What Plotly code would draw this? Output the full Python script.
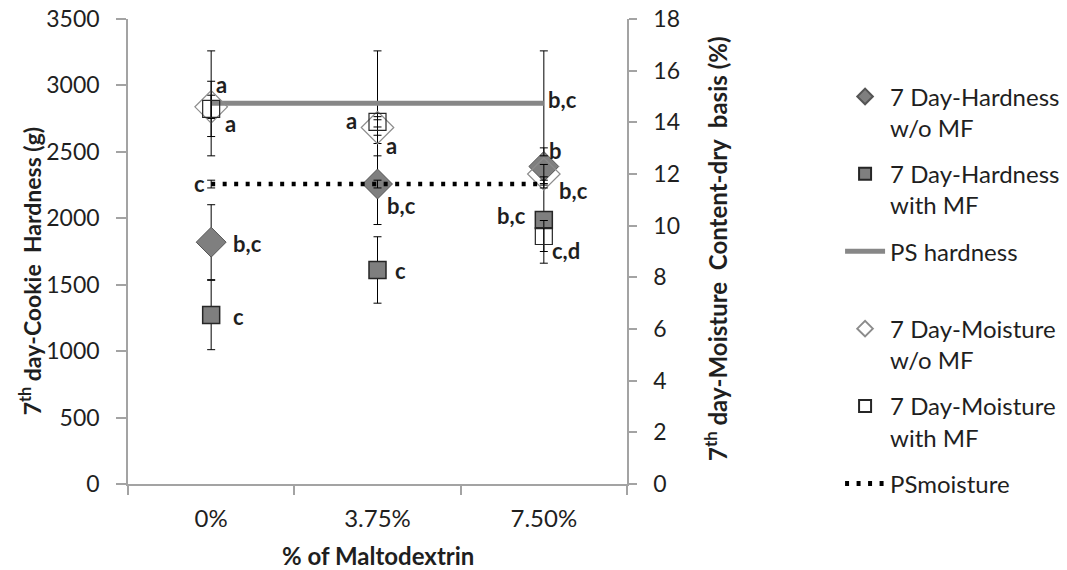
import plotly.graph_objects as go

# ---- data -------------------------------------------------------------
categories = ["0%", "3.75%", "7.50%"]

hard_wo_mf = [1820, 2258, 2390]        # 7 Day-Hardness w/o MF (g)
hard_wo_mf_err = [282, 305, 140]
hard_w_mf = [1272, 1611, 1987]         # 7 Day-Hardness with MF (g)
hard_w_mf_err = [261, 250, 325]
ps_hardness = [2865, 2865, 2865]       # PS hardness (g)
ps_hardness_err = [395, 395, 395]

moist_wo_mf = [14.6, 13.8, 12.0]       # 7 Day-Moisture w/o MF (%)
moist_wo_mf_err = [0.45, 0.3, 0.37]
moist_w_mf = [14.52, 14.02, 9.6]       # 7 Day-Moisture with MF (%)
moist_w_mf_err = [1.07, 0.2, 0.6]
ps_moisture = [11.61, 11.61, 11.61]    # PSmoisture (%)
ps_moisture_err = [0.15, 0.15, 0.15]

y_left_ticks = [0, 500, 1000, 1500, 2000, 2500, 3000, 3500]
y_right_ticks = [0, 2, 4, 6, 8, 10, 12, 14, 16, 18]

# significance letters: (category index, series, letter)
sig_letters = [
    (0, "moist_wo", "a"), (0, "moist_w", "a"), (0, "ps_moist", "c"),
    (0, "hard_wo", "b,c"), (0, "hard_w", "c"),
    (1, "moist_w", "a"), (1, "moist_wo", "a"), (1, "hard_wo", "b,c"),
    (1, "hard_w", "c"),
    (2, "ps_hard", "b,c"), (2, "hard_wo", "b"), (2, "moist_wo", "b,c"),
    (2, "hard_w", "b,c"), (2, "moist_w", "c,d"),
]

# ---- styling ----------------------------------------------------------
FONT = "Lato"
TXT = "#1f1f1f"
AXIS = "#a3a3a3"
GRAY = "#7f7f7f"


def err(vals):
    return dict(type="data", array=vals, color="black", thickness=1, width=4)


fig = go.Figure()

fig.add_trace(go.Scatter(
    x=categories, y=hard_wo_mf, yaxis="y", mode="markers",
    name="7 Day-Hardness<br>w/o MF", legendgroup="g1",
    marker=dict(symbol="diamond", size=23, color=GRAY,
                line=dict(color="#555555", width=1)),
    error_y=err(hard_wo_mf_err)))

fig.add_trace(go.Scatter(
    x=categories, y=hard_w_mf, yaxis="y", mode="markers",
    name="7 Day-Hardness<br>with MF", legendgroup="g2",
    marker=dict(symbol="square", size=17, color=GRAY,
                line=dict(color="#262626", width=1.5)),
    error_y=err(hard_w_mf_err)))

fig.add_trace(go.Scatter(
    x=categories, y=ps_hardness, yaxis="y", mode="lines",
    name="PS hardness<br>&nbsp;", legendgroup="g3",
    line=dict(color="#878787", width=5),
    error_y=err(ps_hardness_err)))

fig.add_trace(go.Scatter(
    x=categories, y=moist_wo_mf, yaxis="y2", mode="markers",
    name="7 Day-Moisture<br>w/o MF", legendgroup="g4",
    marker=dict(symbol="diamond-open", size=25, color="#8c8c8c",
                line=dict(width=1.2)),
    error_y=err(moist_wo_mf_err)))

fig.add_trace(go.Scatter(
    x=categories, y=moist_w_mf, yaxis="y2", mode="markers",
    name="7 Day-Moisture<br>with MF", legendgroup="g5",
    marker=dict(symbol="square-open", size=17, color="#262626",
                line=dict(width=1.2)),
    error_y=err(moist_w_mf_err)))

fig.add_trace(go.Scatter(
    x=categories, y=ps_moisture, yaxis="y2", mode="lines",
    name="PSmoisture", legendgroup="g6",
    line=dict(color="black", width=4.5, dash="4px,7.5px"),
    error_y=err(ps_moisture_err)))

# letter annotations, placed next to the mark they describe
series_vals = {
    "hard_wo": ("y", hard_wo_mf), "hard_w": ("y", hard_w_mf),
    "ps_hard": ("y", ps_hardness), "moist_wo": ("y2", moist_wo_mf),
    "moist_w": ("y2", moist_w_mf), "ps_moist": ("y2", ps_moisture),
}
offsets = [
    (10, -22), (19, 15), (-12, -1), (36, 1), (27, 1),
    (-26, -1), (14, 18), (24, 21), (23, 1),
    (19, -4), (12, -16), (30, 16), (-32, -5), (22, 14),
]
annotations = []
for (ci, key, letter), (dx, dy) in zip(sig_letters, offsets):
    yref, vals = series_vals[key]
    annotations.append(dict(
        x=categories[ci], y=vals[ci], xref="x", yref=yref,
        text=letter, showarrow=False, xshift=dx, yshift=-dy,
        font=dict(family=FONT, size=22, color=TXT, weight="bold")))

# axis titles
annotations += [
    dict(text="7<sup>th</sup> day-Cookie&nbsp; Hardness (g)", xref="paper",
         yref="paper", x=-0.196, y=0.458, textangle=-90, showarrow=False,
         xanchor="center", yanchor="middle",
         font=dict(family=FONT, size=23, color=TXT, weight="bold")),
    dict(text="7<sup>th</sup> day-Moisture&nbsp; Content-dry&nbsp; basis (%)",
         xref="paper", yref="paper", x=1.178, y=0.505, textangle=-90,
         showarrow=False, xanchor="center", yanchor="middle",
         font=dict(family=FONT, size=24, color=TXT, weight="bold")),
    dict(text="% of Maltodextrin", xref="paper", yref="paper", x=0.5,
         y=-0.153, showarrow=False, xanchor="center", yanchor="middle",
         font=dict(family=FONT, size=24, color=TXT, weight="bold")),
]

axis_common = dict(showline=True, linecolor=AXIS, linewidth=1.5,
                   ticks="outside", tickcolor=AXIS, tickwidth=1.5,
                   showgrid=False, zeroline=False)

fig.update_layout(
    width=1067, height=570,
    margin=dict(l=128, r=440, t=19, b=86, autoexpand=False),
    paper_bgcolor="white", plot_bgcolor="white",
    xaxis=dict(type="category", categoryorder="array",
               categoryarray=categories, range=[-0.5, 2.5],
               tickson="boundaries", ticklen=9, ticklabelstandoff=12,
               tickfont=dict(family=FONT, size=24, color=TXT),
               **axis_common),
    yaxis=dict(range=[0, 3500], tickvals=y_left_ticks, ticklen=10,
               ticklabelstandoff=12,
               tickfont=dict(family=FONT, size=23, color=TXT),
               **axis_common),
    yaxis2=dict(range=[0, 18], tickvals=y_right_ticks, overlaying="y",
                side="right", ticklen=8, ticklabelstandoff=12,
                tickfont=dict(family=FONT, size=23, color=TXT),
                **axis_common),
    legend=dict(x=1.427, y=0.881, xanchor="left", yanchor="top",
                traceorder="grouped", tracegroupgap=12, valign="top",
                itemsizing="constant", itemwidth=40,
                font=dict(family=FONT, size=24, color=TXT),
                bgcolor="rgba(0,0,0,0)"),
    annotations=annotations,
    showlegend=True,
)

fig.write_html("out.html")
